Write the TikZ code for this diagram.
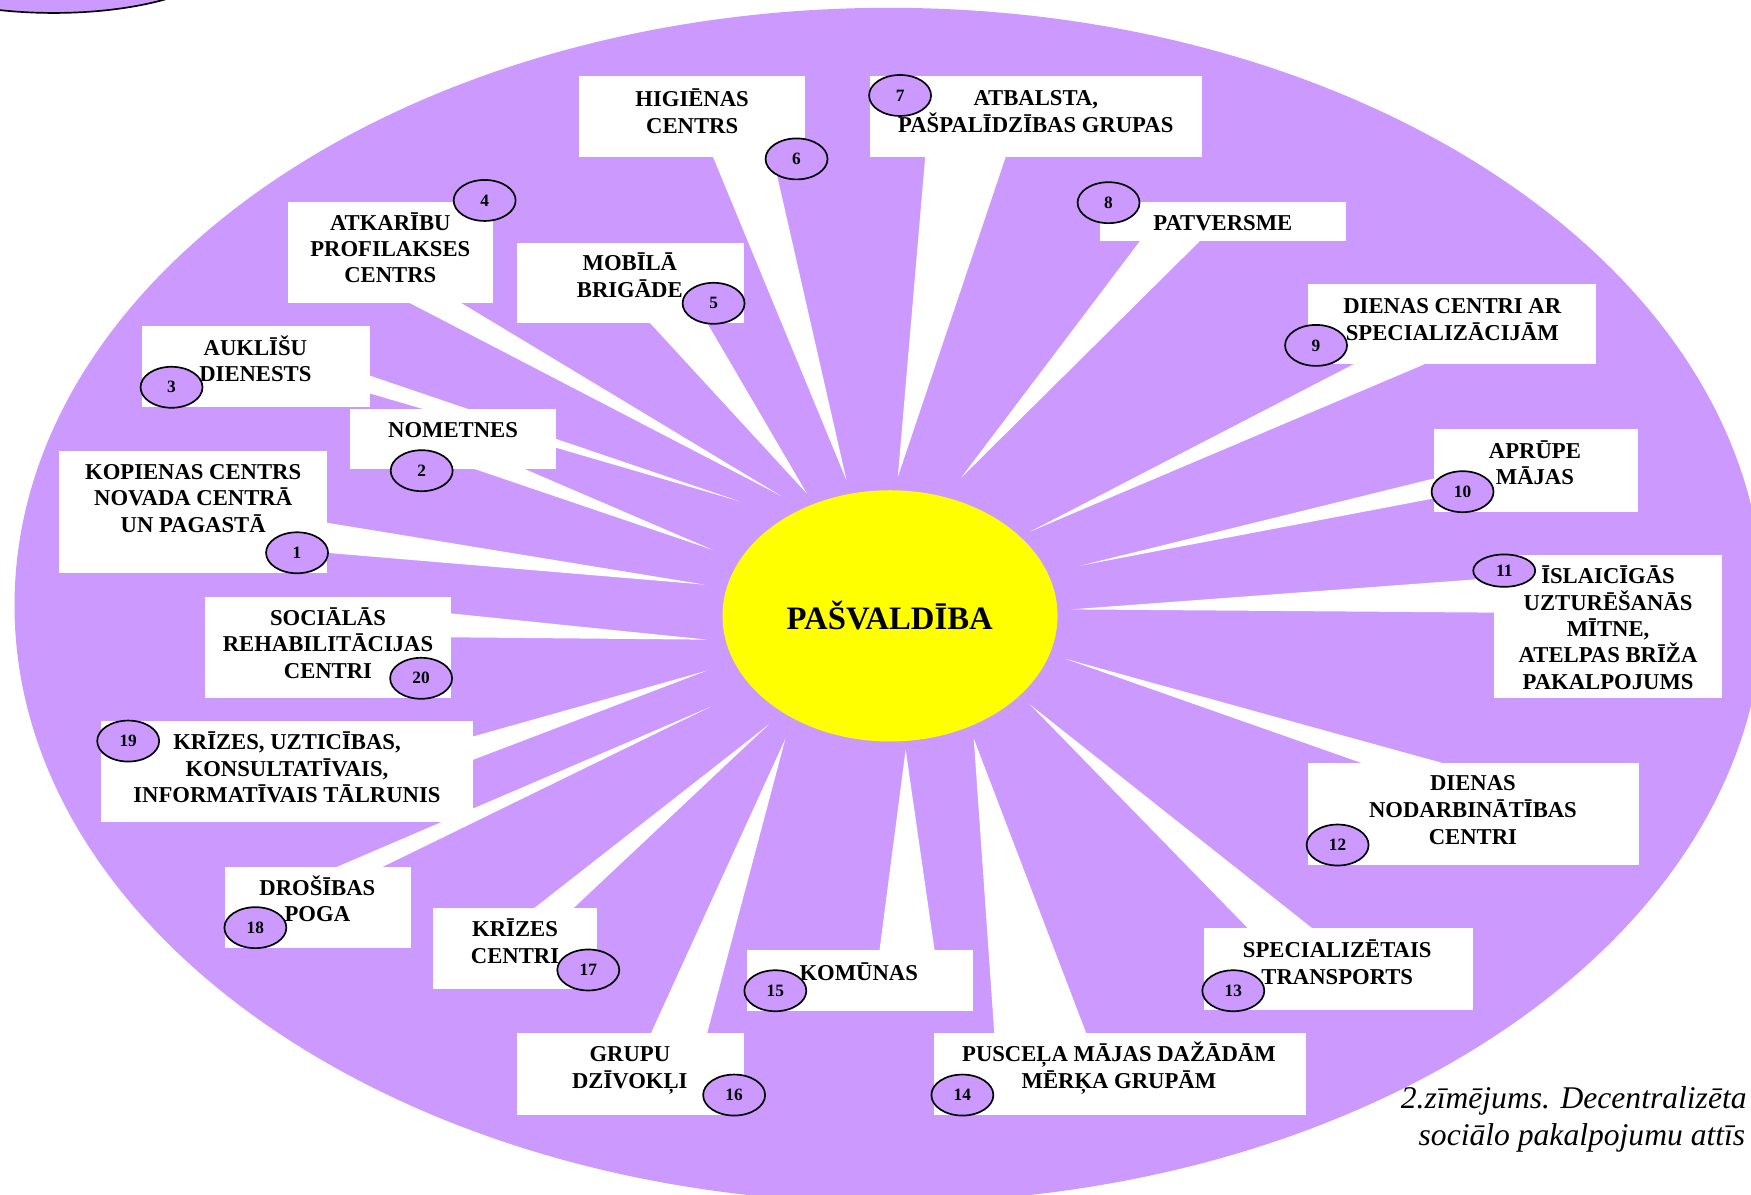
\documentclass[tikz,border=0pt]{standalone}
\usepackage{fontspec}
\setmainfont{Liberation Serif}
\usetikzlibrary{shapes.geometric}
\definecolor{lav}{HTML}{CC99FF}
\definecolor{yel}{HTML}{FFFF00}
\newcommand\boxline[4]{\node[txt] (#1) at (#2,#3) {#4};}
\begin{document}
\begin{tikzpicture}[x=0.5pt,y=-0.5pt,
  callout/.style={fill=white},
  num/.style={ellipse,draw=black,line width=0.75pt,fill=lav,minimum width=27.75pt,minimum height=18.35pt,inner sep=0pt,font=\fontsize{7.75}{9}\selectfont\bfseries},
  txt/.style={anchor=base,inner sep=0pt,font=\fontsize{10.15}{12}\selectfont\bfseries},
  captxt/.style={anchor=base west,inner sep=0pt,font=\fontsize{14.15}{17}\selectfont\itshape}]
\clip (0,0) rectangle (1568,1070);
\fill[white] (0,0) rectangle (1568,1070);
% background shapes
\draw[fill=lav,line width=0.75pt] (48,-40) ellipse [x radius=155,y radius=51.6];
\fill[lav] (796,542) ellipse [x radius=783,y radius=535];
% boxes
\fill[callout] (53,404) rectangle (293,513);
\fill[callout] (313.5,366) rectangle (498,420);
\fill[callout] (127.5,292) rectangle (331,364.7);
\fill[callout] (257.6,180.6) rectangle (441.7,271.6);
\fill[callout] (463.2,217.3) rectangle (666.4,289.5);
\fill[callout] (518.4,68) rectangle (721.2,140.3);
\fill[callout] (779.3,68) rectangle (1076.2,140.3);
\fill[callout] (984.7,180.6) rectangle (1205.7,215.5);
\fill[callout] (1171,254.6) rectangle (1429.6,326.3);
\fill[callout] (1283.7,384.4) rectangle (1467,458.2);
\fill[callout] (1338.2,497) rectangle (1541.8,625.3);
\fill[callout] (1170.9,683) rectangle (1468.1,774.6);
\fill[callout] (1077.8,831.3) rectangle (1318.8,904.5);
\fill[callout] (836,924.8) rectangle (1169.6,998.5);
\fill[callout] (668.6,850.7) rectangle (871,905);
\fill[callout] (463.3,924.8) rectangle (666.2,998.5);
\fill[callout] (387.4,813.4) rectangle (535,886);
\fill[callout] (201.1,776.1) rectangle (367.7,848.7);
\fill[callout] (90.2,645.4) rectangle (424,736.4);
\fill[callout] (183.5,534.3) rectangle (403.9,625.3);
% wedge tips
\coordinate (t1) at (631,523.5);
\coordinate (t2) at (638.5,492.5);
\coordinate (t3) at (662.7,449);
\coordinate (t4) at (699.3,444);
\coordinate (t5) at (722.4,441.8);
\coordinate (t6) at (758,430);
\coordinate (t7) at (804,427);
\coordinate (t8) at (860.5,428);
\coordinate (t9) at (922.5,476);
\coordinate (t10) at (967.5,506.5);
\coordinate (t11) at (959,545.7);
\coordinate (t12) at (953.5,589.8);
\coordinate (t13) at (922.2,630.8);
\coordinate (t14) at (872,661.5);
\coordinate (t15) at (811,671.3);
\coordinate (t16) at (703.3,661.5);
\coordinate (t17) at (688.5,648.7);
\coordinate (t18) at (636.5,632.8);
\coordinate (t19) at (632.8,600.6);
\coordinate (t20) at (633.5,572.8);
% wedges
\fill[callout] (292,468) -- (t1) -- (292,495) -- cycle;
\fill[callout] (422,419) -- (t2) -- (467.5,419) -- cycle;
\fill[callout] (330,336) -- (t3) -- (330,352) -- cycle;
\fill[callout] (365.5,270.6) -- (t4) -- (411.8,270.6) -- cycle;
\fill[callout] (581.4,288.5) -- (t5) -- (632.8,288.5) -- cycle;
\fill[callout] (638,139.3) -- (t6) -- (691.8,139.3) -- cycle;
\fill[callout] (828.6,139.3) -- (t7) -- (901,139.3) -- cycle;
\fill[callout] (1021.8,214.5) -- (t8) -- (1075.8,214.5) -- cycle;
\fill[callout] (1213.8,325.3) -- (t9) -- (1277.7,325.3) -- cycle;
\fill[callout] (1284.7,428.3) -- (t10) -- (1284.7,446.2) -- cycle;
\fill[callout] (1339.2,517.5) -- (t11) -- (1339.2,548.6) -- cycle;
\fill[callout] (1221.5,684) -- (t12) -- (1294.4,684) -- cycle;
\fill[callout] (1118.5,832.3) -- (t13) -- (1176.4,832.3) -- cycle;
\fill[callout] (890.4,925.8) -- (t14) -- (972.9,925.8) -- cycle;
\fill[callout] (787.5,851.7) -- (t15) -- (837,851.7) -- cycle;
\fill[callout] (582.7,925.8) -- (t16) -- (633.1,925.8) -- cycle;
\fill[callout] (476.9,814.4) -- (t17) -- (512.3,814.4) -- cycle;
\fill[callout] (299.8,777.1) -- (t18) -- (340.9,777.1) -- cycle;
\fill[callout] (423,659.7) -- (t19) -- (423,680.6) -- cycle;
\fill[callout] (402.9,549.2) -- (t20) -- (402.9,570.7) -- cycle;
% centre
\node[ellipse,fill=yel,minimum width=150pt,minimum height=112.5pt,inner sep=0pt] (pv) at (797,551.5) {};
\node[anchor=base,inner sep=0pt,font=\fontsize{14.65}{17}\selectfont\bfseries] (pvt) at (796.7,564) {PAŠVALDĪBA};
% numbers
\node[num] (n1) at (266,495) {1};
\node[num] (n2) at (377.6,421.5) {2};
\node[num] (n3) at (153.6,346.8) {3};
\node[num] (n4) at (434,179.5) {4};
\node[num] (n5) at (639,271.6) {5};
\node[num] (n6) at (713.3,142.3) {6};
\node[num] (n7) at (806,85.5) {7};
\node[num] (n8) at (992.7,181.5) {8};
\node[num] (n9) at (1178.5,309.3) {9};
\node[num] (n10) at (1309.7,440.3) {10};
\node[num,minimum height=14.5pt] (n11) at (1347,511) {11};
\node[num] (n12) at (1197.8,756.7) {12};
\node[num] (n13) at (1104.4,887.2) {13};
\node[num] (n14) at (861.8,980.6) {14};
\node[num] (n15) at (694.3,887.2) {15};
\node[num] (n16) at (657.4,980.6) {16};
\node[num] (n17) at (526.8,868.6) {17};
\node[num] (n18) at (228.7,830.7) {18};
\node[num] (n19) at (114.8,663.6) {19};
\node[num] (n20) at (377.1,607.4) {20};
% texts
\boxline{a1}{173}{429}{KOPIENAS CENTRS}
\boxline{a2}{173}{453}{NOVADA CENTRĀ}
\boxline{a3}{173}{477}{UN PAGASTĀ}
\boxline{b1}{405.7}{391.6}{NOMETNES}
\boxline{c1}{228.7}{318}{AUKLĪŠU}
\boxline{c2}{228.7}{341.8}{DIENESTS}
\boxline{d1}{349.5}{206}{ATKARĪBU}
\boxline{d2}{349.5}{229.9}{PROFILAKSES}
\boxline{d3}{349.5}{253.1}{CENTRS}
\boxline{e1}{564}{242}{MOBĪLĀ}
\boxline{e2}{564}{266}{BRIGĀDE}
\boxline{f1}{619.8}{95.5}{HIGIĒNAS}
\boxline{f2}{619.8}{119.4}{CENTRS}
\boxline{g1}{927.5}{94.6}{ATBALSTA,}
\boxline{g2}{927.5}{118.8}{PAŠPALĪDZĪBAS GRUPAS}
\boxline{h1}{1095}{206}{PATVERSME}
\boxline{i1}{1300.5}{280.6}{DIENAS CENTRI AR}
\boxline{i2}{1300.5}{304.5}{SPECIALIZĀCIJĀM}
\boxline{j1}{1374.5}{410.4}{APRŪPE}
\boxline{j2}{1374.5}{434.3}{MĀJAS}
\boxline{k1}{1440}{522.4}{ĪSLAICĪGĀS}
\boxline{k2}{1440}{546.3}{UZTURĒŠANĀS}
\boxline{k3}{1440}{570.2}{MĪTNE,}
\boxline{k4}{1440}{593.5}{ATELPAS BRĪŽA}
\begin{scope}
\clip (1338.2,497) rectangle (1541.8,617);
\boxline{k5}{1440}{617.4}{PAKALPOJUMS}
\end{scope}
\boxline{l1}{1319}{708}{DIENAS}
\boxline{l2}{1319}{731.9}{NODARBINĀTĪBAS}
\boxline{l3}{1319}{755.8}{CENTRI}
\boxline{m1}{1197.5}{857.3}{SPECIALIZĒTAIS}
\boxline{m2}{1197.5}{881.2}{TRANSPORTS}
\boxline{o1}{1002}{950.7}{PUSCEĻA MĀJAS DAŽĀDĀM}
\boxline{o2}{1002}{974.6}{MĒRĶA GRUPĀM}
\boxline{p1}{769}{877.6}{KOMŪNAS}
\boxline{q1}{564}{950.7}{GRUPU}
\boxline{q2}{564}{974.6}{DZĪVOKĻI}
\boxline{r1}{461.2}{838.2}{KRĪZES}
\boxline{r2}{461.2}{862.6}{CENTRI}
\boxline{s1}{284.2}{801.5}{DROŠĪBAS}
\boxline{s2}{284.2}{825.4}{POGA}
\boxline{u1}{257}{671.6}{KRĪZES, UZTICĪBAS,}
\boxline{u2}{257}{695.5}{KONSULTATĪVAIS,}
\boxline{u3}{257}{718.8}{INFORMATĪVAIS TĀLRUNIS}
\boxline{v1}{293.7}{559.7}{SOCIĀLĀS}
\boxline{v2}{293.7}{583}{REHABILITĀCIJAS}
\boxline{v3}{293.7}{607.4}{CENTRI}
% caption
\node[captxt] (cap1) at (1254,992.2) {2.zīmējums. Decentralizēta};
\node[captxt] (cap2) at (1270,1026.2) {sociālo pakalpojumu attīs};
\end{tikzpicture}
\end{document}
